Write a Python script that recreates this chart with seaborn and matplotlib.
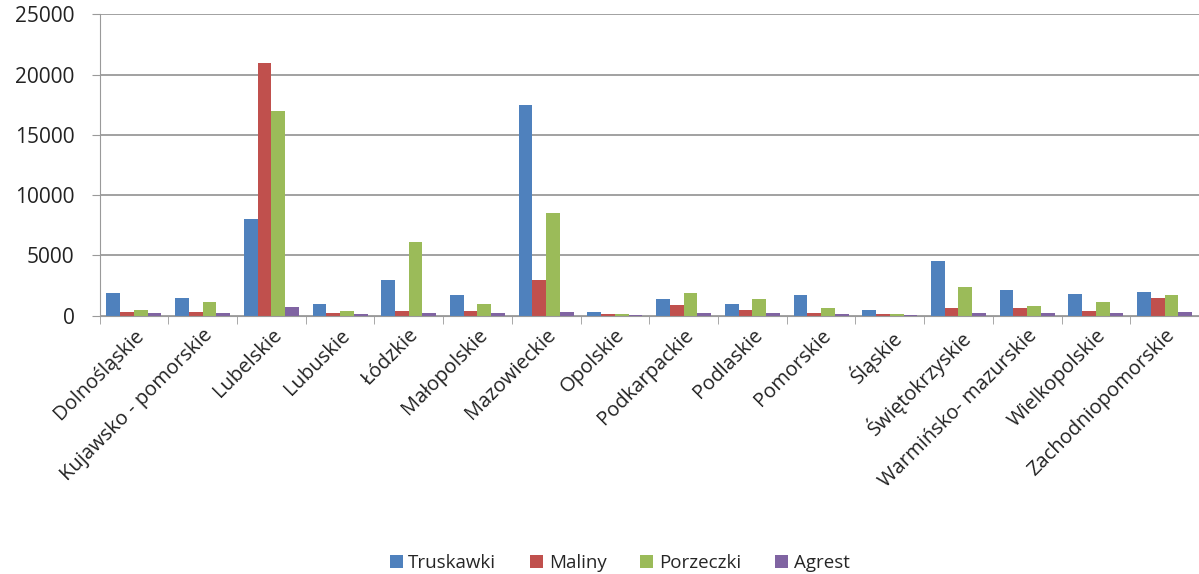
import pandas as pd
import seaborn as sns
import matplotlib.pyplot as plt

# regions (województwa)
regions = ["Dolnośląskie", "Kujawsko - pomorskie", "Lubelskie", "Lubuskie",
           "Łódzkie", "Małopolskie", "Mazowieckie", "Opolskie",
           "Podkarpackie", "Podlaskie", "Pomorskie", "Śląskie",
           "Świętokrzyskie", "Warmińsko- mazurskie", "Wielkopolskie",
           "Zachodniopomorskie"]

truskawki = [1900, 1500, 8000, 1000, 3000, 1700, 17500, 300,
             1400, 1000, 1700, 500, 4500, 2100, 1800, 2000]
maliny = [300, 300, 21000, 200, 400, 400, 3000, 100,
          900, 500, 200, 100, 600, 600, 400, 1500]
porzeczki = [500, 1100, 17000, 400, 6100, 1000, 8500, 100,
             1900, 1400, 600, 150, 2400, 800, 1100, 1700]
agrest = [200, 200, 700, 100, 200, 200, 300, 50,
          200, 200, 100, 50, 200, 200, 200, 300]

series = ["Truskawki", "Maliny", "Porzeczki", "Agrest"]
colors = ["#4F81BD", "#C0504D", "#9BBB59", "#8064A2"]

rows = []
for name, vals in zip(series, [truskawki, maliny, porzeczki, agrest]):
    for r, v in zip(regions, vals):
        rows.append((r, name, v))
df = pd.DataFrame(rows, columns=["Region", "Owoc", "Wartosc"])

sns.set_style("white")
plt.rcParams['font.family'] = ['Open Sans', 'DejaVu Sans']

my_dpi = 100
fig = plt.figure(figsize=(1199 / my_dpi, 574 / my_dpi), dpi=my_dpi)
ax = fig.add_axes([0.083, 0.45, 0.917, 0.525])

sns.barplot(data=df, x="Region", y="Wartosc", hue="Owoc",
            hue_order=series, palette=colors, width=0.8,
            saturation=1, edgecolor="none", ax=ax)

ax.set_ylim(0, 25000)
ax.set_xlim(-0.5, len(regions) - 0.5)
ax.set_yticks(range(0, 25001, 5000))
ax.yaxis.grid(True, color="#9a9a9a", linewidth=1.3)
ax.set_axisbelow(True)
ax.set_xlabel("")
ax.set_ylabel("")
for s in ["top", "right"]:
    ax.spines[s].set_visible(False)
ax.spines["left"].set_color("#9a9a9a")
ax.spines["bottom"].set_color("#9a9a9a")
ax.tick_params(axis="y", labelsize=15, colors="#222222", left=True,
               length=6, pad=12, color="#9a9a9a")
ax.tick_params(axis="x", labelsize=14.5, colors="#222222", bottom=False)
ax.set_xticks(range(len(regions)))
ax.set_xticklabels(regions, rotation=45, ha="right", rotation_mode="anchor")
# separators between categories on the x axis
ax.set_xticks([i + 0.5 for i in range(-1, len(regions))], minor=True)
ax.tick_params(axis="x", which="minor", bottom=True, length=6,
               color="#9a9a9a")

leg = ax.legend(loc="center", bbox_to_anchor=(0.473, -0.82),
                ncol=4, frameon=False, fontsize=13.5, handlelength=0.7,
                handleheight=0.7, handletextpad=0.3, columnspacing=1.8)

plt.savefig("out.png", dpi=my_dpi)
